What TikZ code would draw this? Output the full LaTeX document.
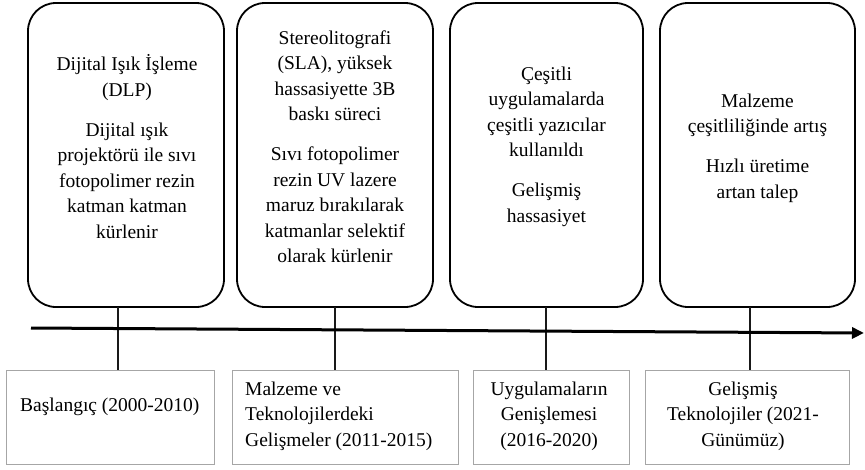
\documentclass[tikz,border=0pt]{standalone}
\usepackage{fontspec}
\setmainfont{Liberation Serif}
\usetikzlibrary{arrows.meta,calc}
\begin{document}
\begin{tikzpicture}[x=1pt,y=-1pt,
  topbox/.style={draw=black,line width=1.8pt,rounded corners=28pt,inner sep=0pt,outer sep=0pt},
  toptext/.style={align=center,inner sep=0pt,font=\fontsize{19.5pt}{25.5pt}\selectfont},
  botbox/.style={draw=black!35,line width=1pt,inner sep=0pt,outer sep=0pt},
  bottext/.style={inner sep=0pt,font=\fontsize{19.5pt}{25.5pt}\selectfont},
  conn/.style={line width=1.8pt,draw=black!90},
  axisline/.style={line width=3pt,-{Triangle[length=12pt,width=11pt]}}]
\useasboundingbox (0,0) rectangle (865,469);
\fill[white] (0,0) rectangle (865,469);
% top rounded boxes
\node[topbox,minimum width=196pt,minimum height=304pt] (t1) at (126,155) {};
\node[topbox,minimum width=196pt,minimum height=304pt] (t2) at (335,155) {};
\node[topbox,minimum width=193pt,minimum height=304pt] (t3) at (546.5,155) {};
\node[topbox,minimum width=195pt,minimum height=304pt] (t4) at (757.5,155) {};
\node[toptext] (t1txt) at (127,146.5) {Dijital Işık İşleme\\(DLP)\\[14.5pt]Dijital ışık\\projektörü ile sıvı\\fotopolimer rezin\\katman katman\\kürlenir};
\node[toptext] (t2txt) at (335,146.5) {Stereolitografi\\(SLA), yüksek\\hassasiyette 3B\\baskı süreci\\[14.5pt]Sıvı fotopolimer\\rezin UV lazere\\maruz bırakılarak\\katmanlar selektif\\olarak kürlenir};
\node[toptext] (t3txt) at (546.5,146.5) {Çeşitli\\uygulamalarda\\çeşitli yazıcılar\\kullanıldı\\[14.5pt]Gelişmiş\\hassasiyet};
\node[toptext] (t4txt) at (757.5,148) {Malzeme\\çeşitliliğinde artış\\[14.5pt]Hızlı üretime\\artan talep};
% bottom boxes
\node[botbox,minimum width=208pt,minimum height=94pt] (b1) at (110,417) {};
\node[botbox,minimum width=226pt,minimum height=94pt] (b2) at (345,417) {};
\node[botbox,minimum width=156pt,minimum height=94pt] (b3) at (551,417) {};
\node[botbox,minimum width=204pt,minimum height=94pt] (b4) at (747,417) {};
\node[bottext,anchor=west] (b1txt) at (20,407) {Başlangıç (2000-2010)};
\node[bottext,anchor=west,align=left] (b2txt) at (245,416) {Malzeme ve\\Teknolojilerdeki\\Gelişmeler (2011-2015)};
\node[bottext,align=center] (b3txt) at (549,416) {Uygulamaların\\Genişlemesi\\(2016-2020)};
\node[bottext,align=center] (b4txt) at (743,416) {Gelişmiş\\Teknolojiler (2021-\\Günümüz)};
% connectors
\coordinate (c1) at (118,0);
\coordinate (c2) at (335,0);
\coordinate (c3) at (546,0);
\coordinate (c4) at (750,0);
\draw[conn] (c1 |- t1.south) -- (c1 |- b1.north);
\draw[conn] (c2 |- t2.south) -- (c2 |- b2.north);
\draw[conn] (c3 |- t3.south) -- (c3 |- b3.north);
\draw[conn] (c4 |- t4.south) -- (c4 |- b4.north);
% axis
\coordinate (ax0) at (31,328);
\coordinate (ax1) at (864,333);
\draw[axisline] (ax0) -- (ax1);
\end{tikzpicture}
\end{document}
